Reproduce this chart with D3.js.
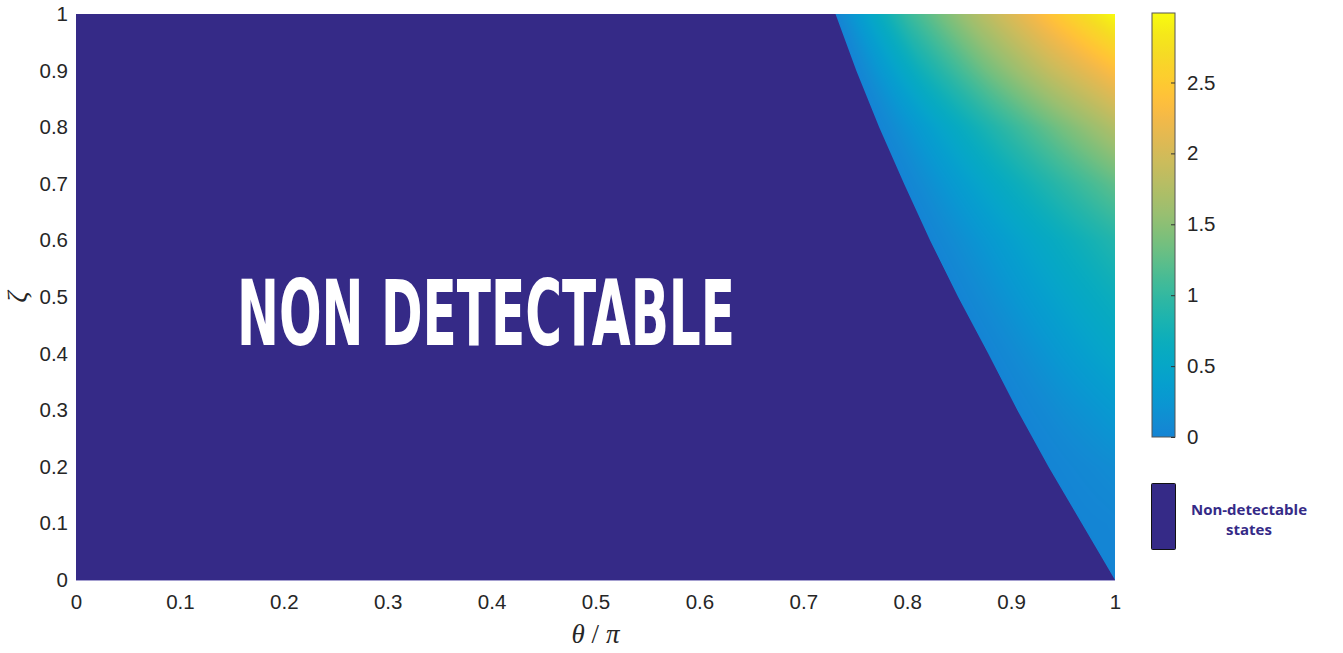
<!DOCTYPE html>
<meta charset="utf-8">
<style>
  body { margin: 0; background: #fff; }
  svg { font-family: "Liberation Sans", Arial, sans-serif; }
  .axis text { fill: #262626; font-size: 20.5px; }
  .axis path { display: none; }
</style>
<svg width="1343" height="653"></svg>
<script src="https://d3js.org/d3.v7.min.js"></script>
<script>

// rows of zeta where the map was read
var zetaRows = [0, 0.1, 0.2, 0.3, 0.4, 0.5, 0.6, 0.7, 0.8, 0.9, 1];
// theta/pi where the detectable region starts, one per zeta row
var edgeTheta = [1.0, 0.968, 0.936, 0.906, 0.878, 0.849, 0.822, 0.797, 0.773, 0.751, 0.731];
// fraction of the way from the edge to theta/pi = 1
var spanFrac = [0, 0.25, 0.5, 0.75, 1];
// value read at each fraction, one row per zeta row
var rowValues = [
  [0, 0, 0, 0, 0],
  [0, 0.01, 0.015, 0.02, 0.03],
  [0, 0.03, 0.06, 0.09, 0.12],
  [0, 0.07, 0.15, 0.22, 0.30],
  [0, 0.12, 0.25, 0.38, 0.50],
  [0, 0.17, 0.35, 0.52, 0.68],
  [0, 0.22, 0.45, 0.67, 0.88],
  [0, 0.32, 0.64, 0.95, 1.25],
  [0, 0.45, 0.90, 1.33, 1.75],
  [0, 0.72, 1.33, 1.88, 2.35],
  [0, 1.00, 1.72, 2.38, 2.99]
];

var thetaTicks = [0, 0.1, 0.2, 0.3, 0.4, 0.5, 0.6, 0.7, 0.8, 0.9, 1];
var zetaTicks = [0, 0.1, 0.2, 0.3, 0.4, 0.5, 0.6, 0.7, 0.8, 0.9, 1];
var barTicks = [0, 0.5, 1, 1.5, 2, 2.5];
var barMax = 2.99;   // top of the colour bar
var barMin = -1;     // value given to non-detectable states

// parula colour map (64 steps)
var parula = [
  [0.2081,0.1663,0.5292],[0.2116,0.1898,0.5777],[0.2123,0.2138,0.6270],[0.2081,0.2386,0.6771],
  [0.1959,0.2645,0.7279],[0.1707,0.2919,0.7792],[0.1253,0.3242,0.8303],[0.0591,0.3598,0.8683],
  [0.0117,0.3875,0.8820],[0.0060,0.4086,0.8828],[0.0165,0.4266,0.8786],[0.0329,0.4430,0.8720],
  [0.0498,0.4586,0.8641],[0.0629,0.4737,0.8554],[0.0723,0.4887,0.8467],[0.0779,0.5040,0.8384],
  [0.0793,0.5200,0.8312],[0.0749,0.5375,0.8263],[0.0641,0.5570,0.8240],[0.0488,0.5772,0.8228],
  [0.0343,0.5966,0.8199],[0.0265,0.6137,0.8135],[0.0239,0.6287,0.8038],[0.0231,0.6418,0.7913],
  [0.0228,0.6535,0.7768],[0.0267,0.6642,0.7607],[0.0384,0.6743,0.7436],[0.0590,0.6838,0.7254],
  [0.0843,0.6928,0.7062],[0.1133,0.7015,0.6859],[0.1453,0.7098,0.6646],[0.1801,0.7177,0.6424],
  [0.2178,0.7250,0.6193],[0.2586,0.7317,0.5954],[0.3022,0.7376,0.5712],[0.3482,0.7424,0.5473],
  [0.3953,0.7459,0.5244],[0.4420,0.7481,0.5033],[0.4871,0.7491,0.4840],[0.5300,0.7491,0.4661],
  [0.5709,0.7485,0.4494],[0.6099,0.7473,0.4337],[0.6473,0.7456,0.4188],[0.6834,0.7435,0.4044],
  [0.7184,0.7411,0.3905],[0.7525,0.7384,0.3768],[0.7858,0.7356,0.3633],[0.8185,0.7327,0.3498],
  [0.8507,0.7299,0.3360],[0.8824,0.7274,0.3217],[0.9139,0.7258,0.3063],[0.9450,0.7261,0.2886],
  [0.9739,0.7314,0.2666],[0.9938,0.7455,0.2403],[0.9990,0.7653,0.2164],[0.9955,0.7861,0.1967],
  [0.9880,0.8066,0.1794],[0.9789,0.8271,0.1633],[0.9697,0.8481,0.1475],[0.9626,0.8705,0.1309],
  [0.9589,0.8949,0.1132],[0.9598,0.9218,0.0948],[0.9661,0.9514,0.0755],[0.9763,0.9831,0.0538]
];

var svg = d3.select("svg");
var margin = {top: 14, left: 76, right: 228, bottom: 73};
var plotW = 1115 - margin.left, plotH = 580 - margin.top;

var x = d3.scaleLinear().domain([0, 1]).range([margin.left, margin.left + plotW]);
var y = d3.scaleLinear().domain([0, 1]).range([margin.top + plotH, margin.top]);

var parulaHex = parula.map(function(c) { return d3.rgb(c[0]*255, c[1]*255, c[2]*255).formatHex(); });
var color = d3.scaleLinear()
  .domain(parula.map(function(c, i) { return barMin + i * (barMax - barMin) / (parula.length - 1); }))
  .range(parulaHex)
  .clamp(true);

var purple = parulaHex[0];

// colour lookup table for the pixel fill
var lutN = 1024, lut = [];
for (var k = 0; k < lutN; k++) {
  lut.push(d3.rgb(color(barMin + k * (barMax - barMin) / (lutN - 1))));
}
function lutColor(v) {
  var k = Math.round((v - barMin) / (barMax - barMin) * (lutN - 1));
  return lut[Math.max(0, Math.min(lutN - 1, k))];
}

var edgeAt = d3.scaleLinear().domain(zetaRows).range(edgeTheta);
var rowScales = rowValues.map(function(r) { return d3.scaleLinear().domain(spanFrac).range(r); });

// fill the map pixel by pixel into a canvas
var canvas = document.createElement("canvas");
canvas.width = plotW; canvas.height = plotH;
var ctx = canvas.getContext("2d");
var img = ctx.createImageData(plotW, plotH);
var pc = d3.rgb(purple);
var dTheta = 1 / plotW;

for (var py = 0; py < plotH; py++) {
  var z = y.invert(margin.top + py + 0.5);
  var tb = edgeAt(z);
  var i = Math.min(zetaRows.length - 2, Math.max(0, Math.floor(z * 10)));
  var f = (z - zetaRows[i]) / (zetaRows[i + 1] - zetaRows[i]);
  for (var px = 0; px < plotW; px++) {
    var t = x.invert(margin.left + px + 0.5);
    var cover = Math.max(0, Math.min(1, (t - tb) / dTheta + 0.5));
    var r = pc.r, g = pc.g, b = pc.b;
    if (cover > 0) {
      var s = tb < 1 ? Math.max(0, Math.min(1, (t - tb) / (1 - tb))) : 0;
      var v = rowScales[i](s) * (1 - f) + rowScales[i + 1](s) * f;
      var c = lutColor(v);
      r = r * (1 - cover) + c.r * cover;
      g = g * (1 - cover) + c.g * cover;
      b = b * (1 - cover) + c.b * cover;
    }
    var o = (py * plotW + px) * 4;
    img.data[o] = r; img.data[o + 1] = g; img.data[o + 2] = b; img.data[o + 3] = 255;
  }
}
ctx.putImageData(img, 0, 0);

svg.append("image")
  .attr("x", margin.left)
  .attr("y", margin.top)
  .attr("width", plotW)
  .attr("height", plotH)
  .attr("preserveAspectRatio", "none")
  .attr("href", canvas.toDataURL());

// thin axis line under the map
svg.append("line")
  .attr("x1", x(0)).attr("x2", x(1))
  .attr("y1", y(0) + 0.5).attr("y2", y(0) + 0.5)
  .style("stroke", "#a49fd0").style("stroke-width", 1);

// axes
svg.append("g")
  .attr("class", "axis")
  .attr("transform", "translate(" + x(0) + ",0)")
  .call(d3.axisLeft(y).tickValues(zetaTicks).tickSize(0).tickPadding(8).tickFormat(function(d) { return d; }));

svg.append("g")
  .attr("class", "axis")
  .attr("transform", "translate(0," + y(0) + ")")
  .call(d3.axisBottom(x).tickValues(thetaTicks).tickSize(0).tickPadding(14).tickFormat(function(d) { return d; }));

// axis titles
var xt = svg.append("text")
  .attr("x", x(0.5))
  .attr("y", 643)
  .attr("text-anchor", "middle")
  .style("font-family", "'Liberation Serif', 'DejaVu Serif', serif")
  .style("font-size", "27px")
  .style("fill", "#262626");
xt.append("tspan").style("font-style", "italic").text("θ");
xt.append("tspan").text(" / ");
xt.append("tspan").style("font-style", "italic").text("π");

svg.append("text")
  .attr("transform", "translate(26," + y(0.5) + ") rotate(-90)")
  .attr("text-anchor", "middle")
  .style("font-family", "'Liberation Serif', 'DejaVu Serif', serif")
  .style("font-style", "italic")
  .style("font-size", "28px")
  .style("fill", "#262626")
  .text("ζ");

// big label in the map
svg.append("text")
  .attr("x", 237)
  .attr("y", 345)
  .attr("textLength", 498)
  .attr("lengthAdjust", "spacingAndGlyphs")
  .style("font-family", "'Liberation Sans Narrow', 'DejaVu Sans Condensed', sans-serif")
  .style("font-weight", "bold")
  .style("font-size", "91px")
  .style("fill", "#ffffff")
  .text("NON DETECTABLE");

// colour bar
var cb = {x: 1152, w: 23};
var yc = d3.scaleLinear().domain([0, barMax]).range([437, 13]);

var grad = svg.append("defs").append("linearGradient")
  .attr("id", "cbar")
  .attr("x1", 0).attr("y1", 1).attr("x2", 0).attr("y2", 0);
d3.range(0, 41).forEach(function(k) {
  grad.append("stop")
    .attr("offset", k / 40)
    .attr("stop-color", color(k / 40 * barMax));
});

svg.append("rect")
  .attr("x", cb.x).attr("y", yc(barMax))
  .attr("width", cb.w).attr("height", yc(0) - yc(barMax))
  .style("fill", "url(#cbar)")
  .style("stroke", "#555").style("stroke-width", 1);

var cbAxis = svg.append("g")
  .attr("class", "axis")
  .attr("transform", "translate(" + (cb.x + cb.w) + ",0)")
  .call(d3.axisRight(yc).tickValues(barTicks).tickSize(-4).tickPadding(12).tickFormat(function(d) { return d; }));
cbAxis.selectAll("line").style("stroke", "#333");

// legend for non-detectable states
svg.append("rect")
  .attr("x", 1151.5).attr("y", 483.5)
  .attr("width", 24).attr("height", 66)
  .attr("rx", 1)
  .style("fill", purple)
  .style("stroke", "#111").style("stroke-width", 1);

var lg = svg.append("text")
  .attr("text-anchor", "middle")
  .style("font-family", "'Open Sans', 'Lato', sans-serif")
  .style("font-weight", "bold")
  .style("font-size", "15px")
  .style("fill", purple);
lg.append("tspan").attr("x", 1249).attr("y", 515).text("Non-detectable");
lg.append("tspan").attr("x", 1249).attr("y", 535).text("states");

</script>
